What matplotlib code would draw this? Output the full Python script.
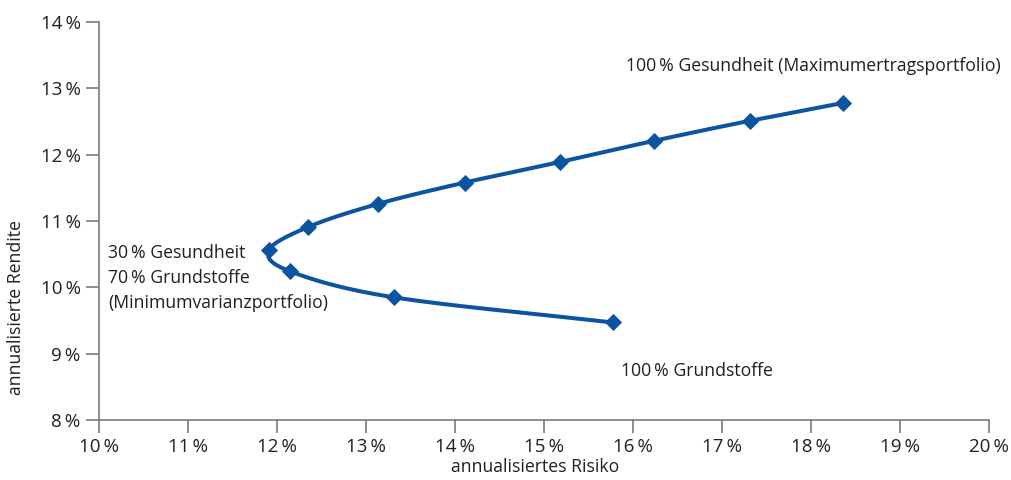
import numpy as np
import matplotlib
matplotlib.use("Agg")
import matplotlib.pyplot as plt

# Efficient frontier: annualised risk and return (%) per portfolio mix
risk = [18.36, 17.31, 16.24, 15.18, 14.11, 13.14, 12.35, 11.91, 12.15, 13.31, 15.77]
ret = [12.78, 12.51, 12.21, 11.89, 11.58, 11.26, 10.91, 10.56, 10.24, 9.85, 9.47]

x_ticks = [10, 11, 12, 13, 14, 15, 16, 17, 18, 19, 20]
y_ticks = [8, 9, 10, 11, 12, 13, 14]

label_max = "100\u2009% Gesundheit (Maximumertragsportfolio)"
label_min = "30\u2009% Gesundheit\n70\u2009% Grundstoffe\n(Minimumvarianzportfolio)"
label_base = "100\u2009% Grundstoffe"
x_label = "annualisiertes Risiko"
y_label = "annualisierte Rendite"

plt.rcParams["font.family"] = ["Open Sans", "DejaVu Sans"]

line_color = "#0b54a0"
text_color = "#231f20"
axis_color = "#7a7a7a"
fs = 12.7

fig = plt.figure(figsize=(10.11, 4.8), dpi=100)
ax = fig.add_axes([99 / 1011, 1 - 420 / 480, (989 - 99) / 1011, (420 - 22) / 480])


def smooth_curve(xs, ys, sx, sy, steps=30):
    """Catmull-Rom curve through the points, computed in screen-proportional units."""
    P = np.column_stack([np.asarray(xs) * sx, np.asarray(ys) * sy])
    P = np.vstack([P[:1], P, P[-1:]])
    P[0] = 2 * P[1] - P[2]
    P[-1] = 2 * P[-2] - P[-3]
    out = []
    for i in range(1, len(P) - 2):
        p0, p1, p2, p3 = P[i - 1], P[i], P[i + 1], P[i + 2]
        c1 = p1 + (p2 - p0) / 6.0
        c2 = p2 - (p3 - p1) / 6.0
        t = np.linspace(0, 1, steps)[:, None]
        seg = ((1 - t) ** 3) * p1 + 3 * ((1 - t) ** 2) * t * c1 + 3 * (1 - t) * t ** 2 * c2 + t ** 3 * p2
        out.append(seg if i == 1 else seg[1:])
    out = np.vstack(out)
    return out[:, 0] / sx, out[:, 1] / sy


sx, sy = 89.0, 66.33
cx, cy = smooth_curve(risk, ret, sx, sy)
ax.plot(cx, cy, color=line_color, lw=2.9, solid_capstyle="round", zorder=2)
ax.plot(risk, ret, linestyle="none", marker="D", markersize=8.0,
        markerfacecolor=line_color, markeredgecolor=line_color, markeredgewidth=0.6, zorder=3)

ax.set_xlim(10, 20)
ax.set_ylim(8, 14)
ax.set_xticks(x_ticks)
ax.set_yticks(y_ticks)
ax.set_xticklabels([f"{v}\u2009%" for v in x_ticks])
ax.set_yticklabels([f"{v}\u2009%" for v in y_ticks])

for side in ("top", "right"):
    ax.spines[side].set_visible(False)
for side in ("left", "bottom"):
    ax.spines[side].set_color(axis_color)
    ax.spines[side].set_linewidth(1.2)
ax.tick_params(axis="both", direction="out", length=9.2, width=1.2, color=axis_color,
               labelsize=13.5, labelcolor=text_color, pad=4)

fig.text(626 / 1011, 1 - 66 / 480, label_max, fontsize=fs, color=text_color, va="center", ha="left")
fig.text(108 / 1011, 1 - 278 / 480, label_min, fontsize=fs, color=text_color, va="center",
         ha="left", linespacing=1.5)
fig.text(621 / 1011, 1 - 371 / 480, label_base, fontsize=fs, color=text_color, va="center", ha="left")
fig.text(535 / 1011, 1 - 467 / 480, x_label, fontsize=fs, color=text_color, va="center", ha="center")
fig.text(16 / 1011, 1 - 308 / 480, y_label, fontsize=fs, color=text_color, va="center",
         ha="center", rotation=90)

fig.savefig("out.png", dpi=100)
